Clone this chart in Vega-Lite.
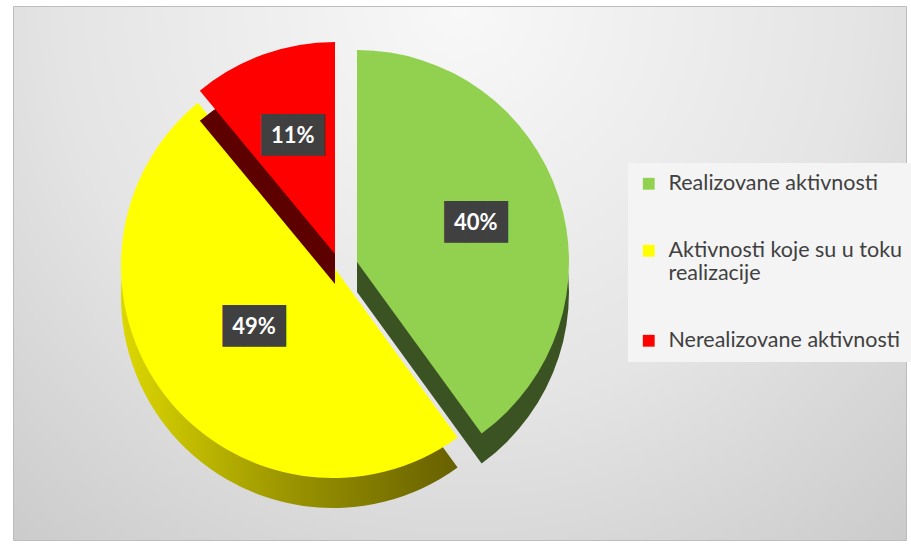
{
  "$schema": "https://vega.github.io/schema/vega-lite/v6.json",
  "width": 911,
  "height": 545,
  "autosize": {"type": "fit", "contains": "padding"},
  "padding": {"left": 13, "top": 6, "right": 5, "bottom": 5},
  "background": "#ffffff",
  "view": {
    "fill": {"gradient": "radial", "x1": 0.5, "y1": 0.2, "r1": 0, "x2": 0.5, "y2": 0.2, "r2": 0.9,
      "stops": [{"offset": 0, "color": "#f8f8f8"}, {"offset": 0.5, "color": "#e4e4e4"}, {"offset": 1, "color": "#c2c2c2"}]},
    "stroke": "#bdbdbd"
  },
  "data": {"values": [
    {"cat": "Realizovane aktivnosti", "value": 0.40, "order": 1},
    {"cat": "Aktivnosti koje su u toku realizacije", "value": 0.49, "order": 2},
    {"cat": "Nerealizovane aktivnosti", "value": 0.11, "order": 3}
  ]},
  "transform": [{"stack": "value", "groupby": [], "sort": [{"field": "order", "order": "ascending"}], "as": ["v0", "v1"]}],
  "layer": [
    {
      "transform": [{"filter": "datum.order == 2"}],
      "mark": {"type": "arc", "radius": 212, "xOffset": -126.5, "yOffset": 23,
        "fill": {"gradient": "linear", "x1": 0, "y1": 0, "x2": 1, "y2": 0,
          "stops": [{"offset": 0, "color": "#dcd700"}, {"offset": 0.5, "color": "#9a9400"}, {"offset": 1, "color": "#676000"}]}},
      "encoding": {"theta": {"field": "v0", "type": "quantitative", "scale": {"domain": [0, 1]}}, "theta2": {"field": "v1"}}
    },
    {
      "transform": [{"filter": "datum.order == 2"}],
      "mark": {"type": "arc", "radius": 212, "xOffset": -126.5, "yOffset": -7},
      "encoding": {
        "theta": {"field": "v0", "type": "quantitative", "scale": {"domain": [0, 1]}}, "theta2": {"field": "v1"},
        "color": {"field": "cat", "type": "nominal",
          "scale": {"domain": ["Realizovane aktivnosti", "Aktivnosti koje su u toku realizacije", "Nerealizovane aktivnosti"], "range": ["#92d050", "#ffff00", "#ff0000"]},
          "legend": {"orient": "none", "legendX": 615, "legendY": 157, "title": null, "fillColor": "#f4f4f4", "padding": 10,
            "symbolType": "square", "symbolSize": 140, "symbolStrokeWidth": 0, "symbolOffset": 0,
            "labelFont": "Lato", "labelFontSize": 21.5, "labelColor": "#404040", "labelLimit": 320, "labelOffset": 9,
            "rowPadding": 44,
            "labelExpr": "datum.label == 'Aktivnosti koje su u toku realizacije' ? ['Aktivnosti koje su u toku', 'realizacije'] : datum.label"}}
      }
    },
    {
      "transform": [{"filter": "datum.order == 3"}],
      "mark": {"type": "arc", "radius": 212, "xOffset": -124.5, "yOffset": 11, "fill": "#5c0000"},
      "encoding": {"theta": {"field": "v0", "type": "quantitative", "scale": {"domain": [0, 1]}}, "theta2": {"field": "v1"}}
    },
    {
      "transform": [{"filter": "datum.order == 3"}],
      "mark": {"type": "arc", "radius": 212, "xOffset": -124.5, "yOffset": -19},
      "encoding": {"theta": {"field": "v0", "type": "quantitative", "scale": {"domain": [0, 1]}}, "theta2": {"field": "v1"},
        "color": {"field": "cat", "type": "nominal"}}
    },
    {
      "transform": [{"filter": "datum.order == 1"}],
      "mark": {"type": "arc", "radius": 212, "xOffset": -102.5, "yOffset": 19, "fill": "#3b5323"},
      "encoding": {"theta": {"field": "v0", "type": "quantitative", "scale": {"domain": [0, 1]}}, "theta2": {"field": "v1"}}
    },
    {
      "transform": [{"filter": "datum.order == 1"}],
      "mark": {"type": "arc", "radius": 212, "xOffset": -102.5, "yOffset": -11},
      "encoding": {"theta": {"field": "v0", "type": "quantitative", "scale": {"domain": [0, 1]}}, "theta2": {"field": "v1"},
        "color": {"field": "cat", "type": "nominal"}}
    },
    {
      "mark": {"type": "text", "radius": 125, "xOffset": -102.5, "yOffset": -11, "font": "DejaVu Sans Mono", "fontSize": 35, "fill": "#404040", "baseline": "middle", "align": "center"},
      "encoding": {"theta": {"field": "value", "type": "quantitative", "stack": true, "scale": {"domain": [0, 1]}}, "order": {"field": "order"},
        "text": {"value": "███"}, "opacity": {"condition": {"test": "datum.order == 1", "value": 1}, "value": 0}}
    },
    {
      "mark": {"type": "text", "radius": 125, "xOffset": -102.5, "yOffset": -11, "font": "Lato", "fontWeight": "bold", "fontSize": 22, "fill": "#ffffff", "baseline": "middle", "align": "center"},
      "encoding": {"theta": {"field": "value", "type": "quantitative", "stack": true, "scale": {"domain": [0, 1]}}, "order": {"field": "order"},
        "text": {"field": "value", "type": "quantitative", "format": ".0%"}, "opacity": {"condition": {"test": "datum.order == 1", "value": 1}, "value": 0}}
    },
    {
      "mark": {"type": "text", "radius": 100, "xOffset": -126.5, "yOffset": -7, "font": "DejaVu Sans Mono", "fontSize": 35, "fill": "#404040", "baseline": "middle", "align": "center"},
      "encoding": {"theta": {"field": "value", "type": "quantitative", "stack": true, "scale": {"domain": [0, 1]}}, "order": {"field": "order"},
        "text": {"value": "███"}, "opacity": {"condition": {"test": "datum.order == 2", "value": 1}, "value": 0}}
    },
    {
      "mark": {"type": "text", "radius": 100, "xOffset": -126.5, "yOffset": -7, "font": "Lato", "fontWeight": "bold", "fontSize": 22, "fill": "#ffffff", "baseline": "middle", "align": "center"},
      "encoding": {"theta": {"field": "value", "type": "quantitative", "stack": true, "scale": {"domain": [0, 1]}}, "order": {"field": "order"},
        "text": {"field": "value", "type": "quantitative", "format": ".0%"}, "opacity": {"condition": {"test": "datum.order == 2", "value": 1}, "value": 0}}
    },
    {
      "mark": {"type": "text", "radius": 125, "xOffset": -124.5, "yOffset": -19, "font": "DejaVu Sans Mono", "fontSize": 35, "fill": "#404040", "baseline": "middle", "align": "center"},
      "encoding": {"theta": {"field": "value", "type": "quantitative", "stack": true, "scale": {"domain": [0, 1]}}, "order": {"field": "order"},
        "text": {"value": "███"}, "opacity": {"condition": {"test": "datum.order == 3", "value": 1}, "value": 0}}
    },
    {
      "mark": {"type": "text", "radius": 125, "xOffset": -124.5, "yOffset": -19, "font": "Lato", "fontWeight": "bold", "fontSize": 22, "fill": "#ffffff", "baseline": "middle", "align": "center"},
      "encoding": {"theta": {"field": "value", "type": "quantitative", "stack": true, "scale": {"domain": [0, 1]}}, "order": {"field": "order"},
        "text": {"field": "value", "type": "quantitative", "format": ".0%"}, "opacity": {"condition": {"test": "datum.order == 3", "value": 1}, "value": 0}}
    }
  ]
}
